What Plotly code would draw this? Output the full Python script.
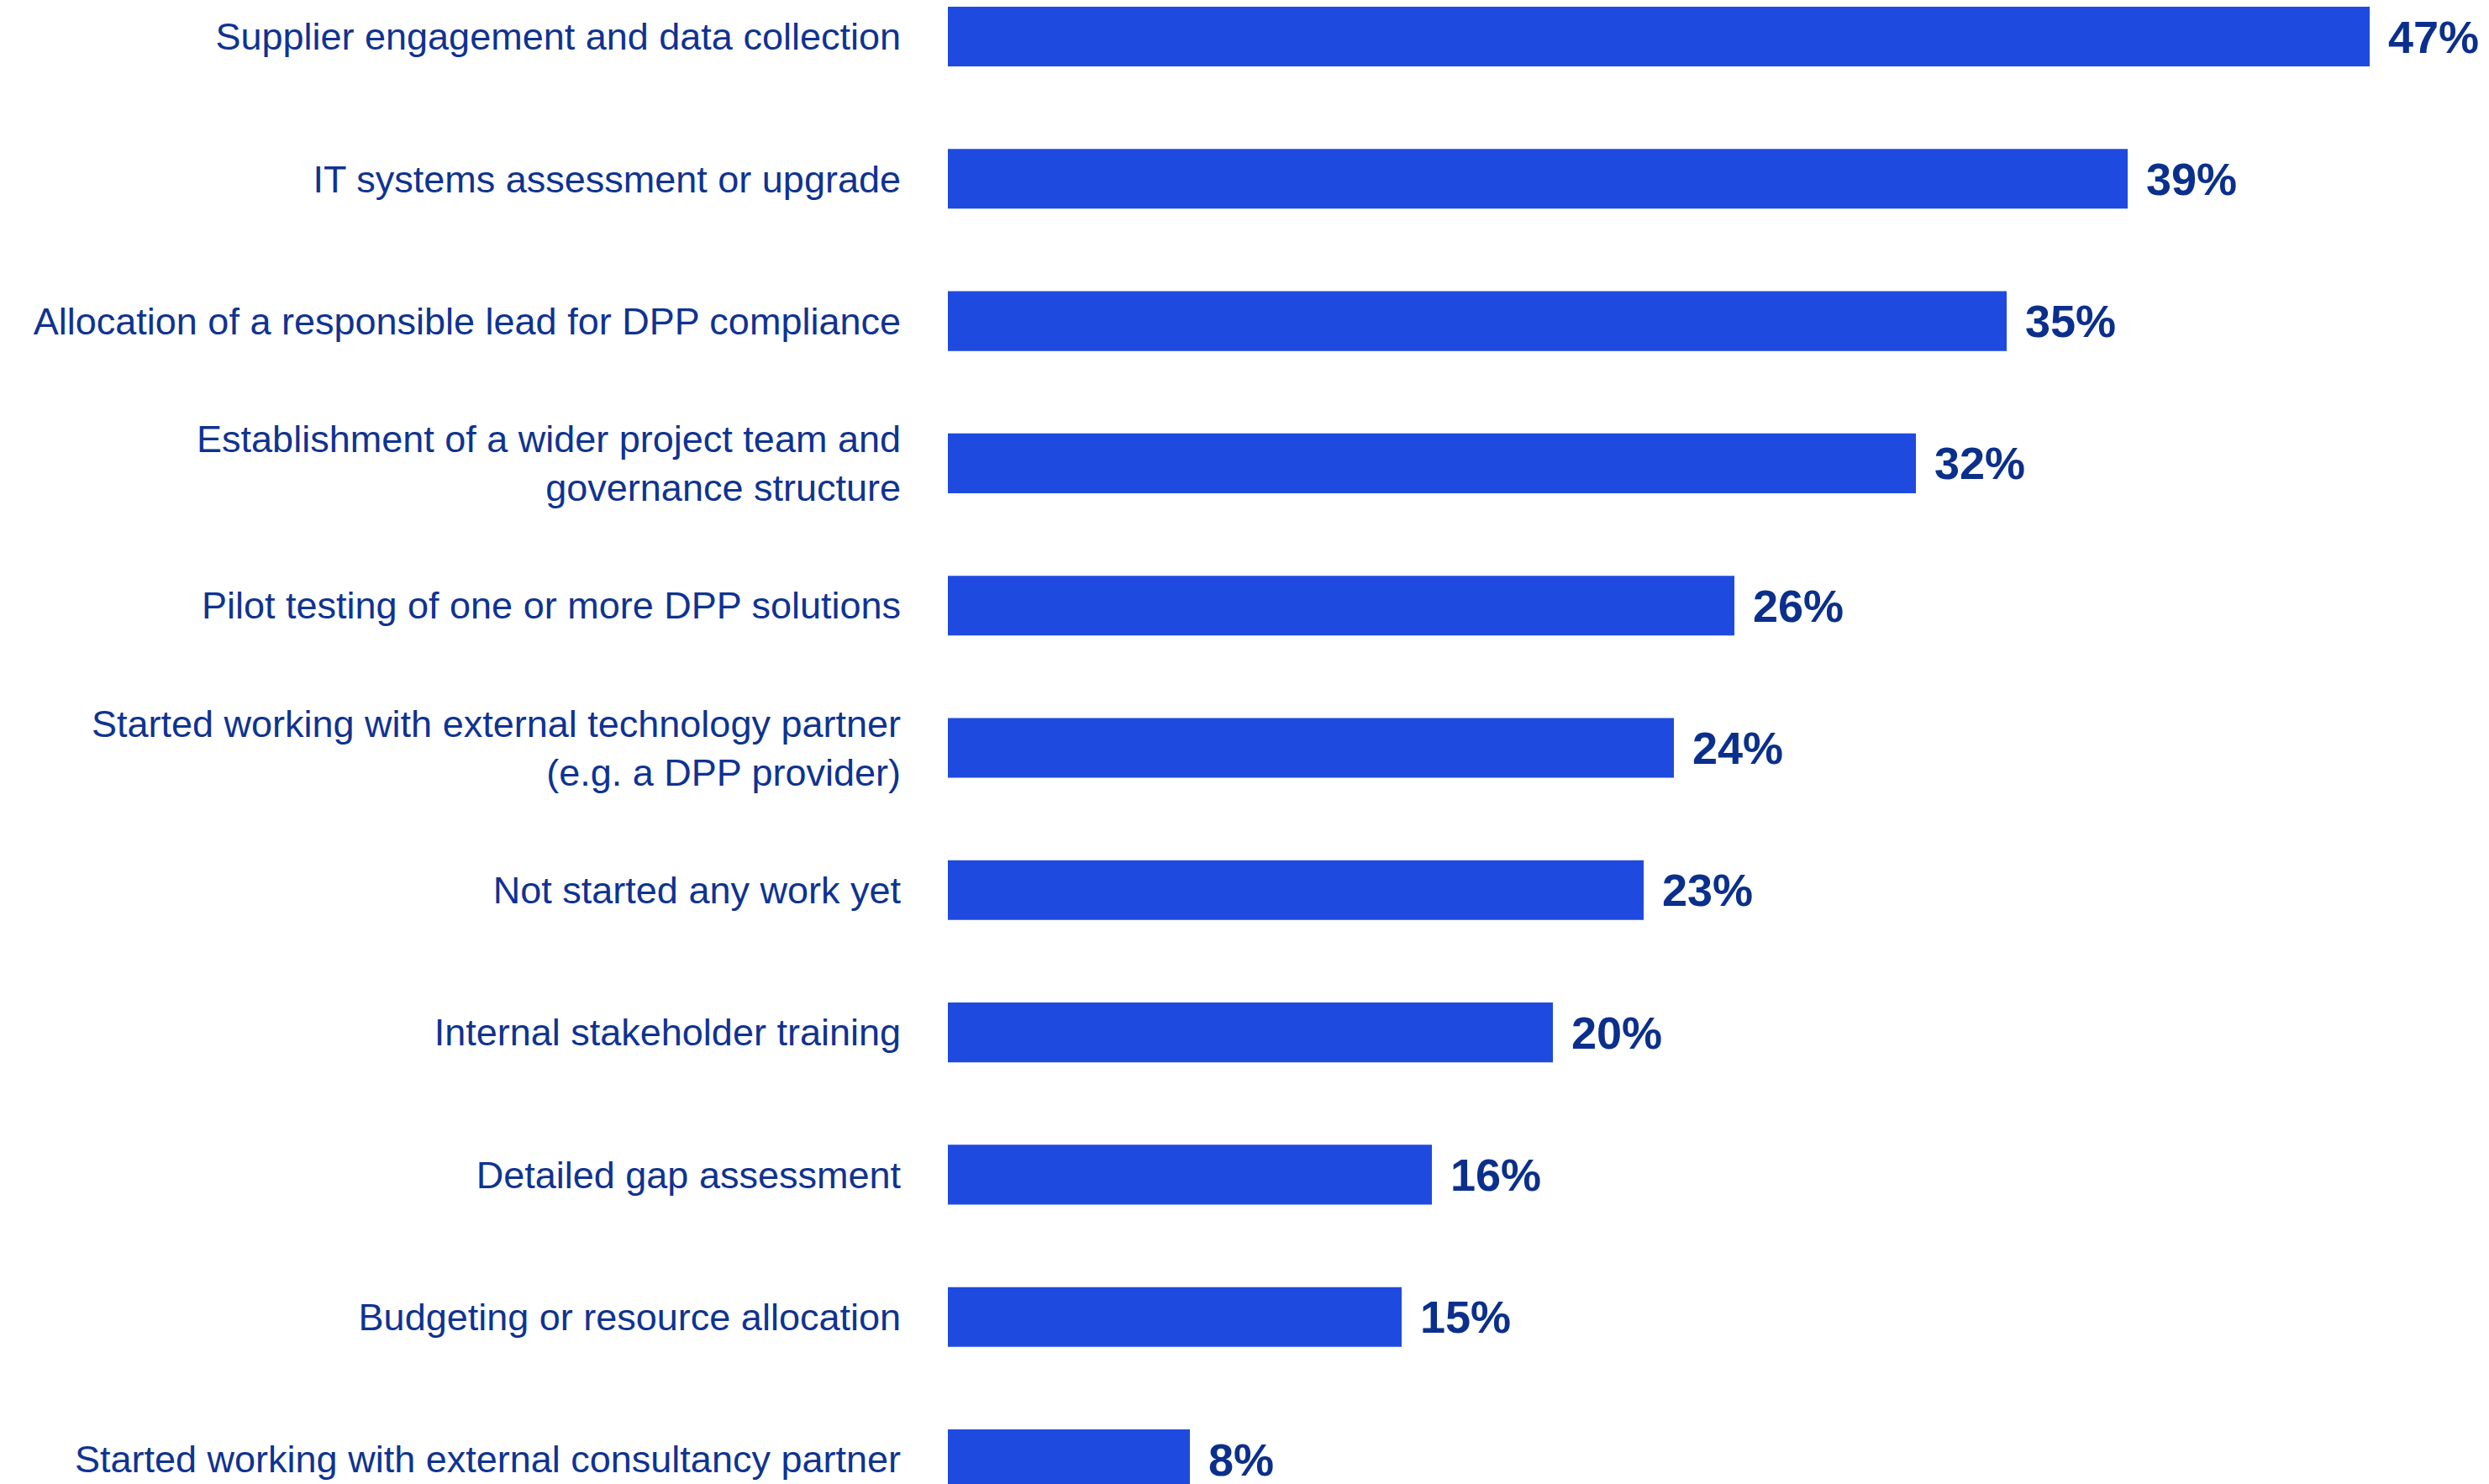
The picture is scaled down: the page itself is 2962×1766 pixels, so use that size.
import plotly.graph_objects as go

# Survey responses: actions taken towards DPP readiness (share of respondents)
categories = [
    "Supplier engagement and data collection",
    "IT systems assessment or upgrade",
    "Allocation of a responsible lead for DPP compliance",
    "Establishment of a wider project team and<br>governance structure",
    "Pilot testing of one or more DPP solutions",
    "Started working with external technology partner<br>(e.g. a DPP provider)",
    "Not started any work yet",
    "Internal stakeholder training",
    "Detailed gap assessment",
    "Budgeting or resource allocation",
    "Started working with external consultancy partner",
]
values = [47, 39, 35, 32, 26, 24, 23, 20, 16, 15, 8]
value_labels = [f"{v}%" for v in values]

BAR_COLOR = "#1F4AE0"
LABEL_COLOR = "#0F3391"
VALUE_COLOR = "#0B2F8C"

W, H = 2962, 1766
LEFT = 1128
PX_PER_UNIT = 36.0
ROW_PITCH = 169.3
FIRST_ROW_CENTER = 43.5

positions = list(range(len(categories)))

fig = go.Figure(
    go.Bar(
        x=values,
        y=positions,
        orientation="h",
        marker=dict(color=BAR_COLOR, line=dict(width=0)),
        width=0.42,
        hoverinfo="skip",
    )
)

for pos, v, lab in zip(positions, values, value_labels):
    fig.add_annotation(
        x=v,
        y=pos,
        text=f"<b>{lab}</b>",
        showarrow=False,
        xanchor="left",
        yanchor="middle",
        xshift=20,
        font=dict(family="Liberation Sans", size=54, color=VALUE_COLOR),
    )

x_max = (W - LEFT) / PX_PER_UNIT
y_top = -FIRST_ROW_CENTER / ROW_PITCH
y_bottom = (H - FIRST_ROW_CENTER) / ROW_PITCH

fig.update_layout(
    width=W,
    height=H,
    margin=dict(l=LEFT, r=0, t=0, b=0),
    paper_bgcolor="white",
    plot_bgcolor="white",
    showlegend=False,
    xaxis=dict(
        range=[0, x_max],
        visible=False,
        showgrid=False,
        zeroline=False,
    ),
    yaxis=dict(
        range=[y_bottom, y_top],
        tickmode="array",
        tickvals=positions,
        ticktext=categories,
        showgrid=False,
        zeroline=False,
        showline=False,
        ticks="outside",
        ticklen=46,
        tickcolor="rgba(0,0,0,0)",
        tickfont=dict(family="Liberation Sans", size=45, color=LABEL_COLOR),
    ),
)

fig.write_html("out.html")
